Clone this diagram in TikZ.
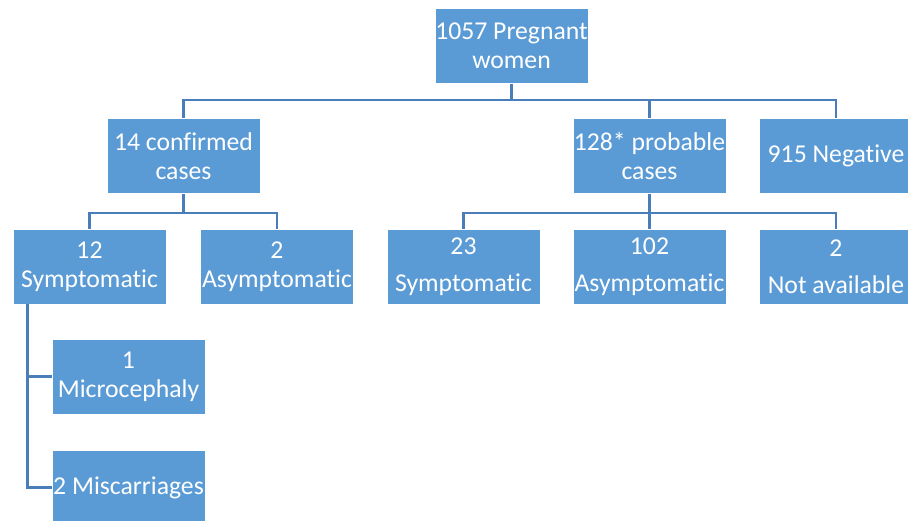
\documentclass[tikz,border=0pt]{standalone}
\usepackage{fontspec}
\setmainfont{Carlito}[Ligatures={NoCommon}]
\usetikzlibrary{calc}
\definecolor{boxblue}{HTML}{5B9BD5}
\definecolor{lineblue}{HTML}{4A7EBB}
\begin{document}
\begin{tikzpicture}[x=1pt,y=-1pt,
  box/.style={rectangle, fill=boxblue, draw=white, line width=0.8pt,
    minimum width=153pt, minimum height=75pt, inner sep=0pt,
    text=white, align=center, font=\fontsize{25.7}{29}\selectfont},
  conn/.style={draw=lineblue, line width=2.4pt}]
\useasboundingbox (0,0) rectangle (908,520);
\clip (0,0) rectangle (908,520);
\fill[white] (0,0) rectangle (908,520);
\node[box] (root) at (511.5,46) {1057 Pregnant\\women};
\node[box] (conf) at (183.5,156) {14 confirmed\\cases};
\node[box] (prob) at (649.5,156) {128* probable\\cases};
\node[box] (neg) at (836,156) {915 Negative};
\node[box] (sym1) at (89.5,266.5) {12\\Symptomatic};
\node[box] (asym1) at (277,266.5) {2\\Asymptomatic};
\node[box] (sym2) at (463.5,266.5) {23\\[8pt]Symptomatic};
\node[box] (asym2) at (649.5,266.5) {102\\[8pt]Asymptomatic};
\node[box] (na) at (836,266.5) {2\\[8pt]Not available};
\node[box] (micro) at (128.5,376.5) {1\\Microcephaly};
\node[box] (misc) at (128.5,487.5) {2 Miscarriages};
\coordinate (bus1) at (0,100);
\coordinate (bus2) at (0,213);
\coordinate (t) at ($(sym1.south west)+(15,0)$);
% root level
\draw[conn] (root.south) -- (root.south |- bus1);
\draw[conn] (conf.north) -- (conf.north |- bus1) -| (neg.north);
\draw[conn] (prob.north) -- (prob.north |- bus1);
% confirmed
\draw[conn] (conf.south) -- (conf.south |- bus2);
\draw[conn] (sym1.north) -- (sym1.north |- bus2) -| (asym1.north);
% probable
\draw[conn] (prob.south) -- (asym2.north);
\draw[conn] (sym2.north) -- (sym2.north |- bus2) -| (na.north);
% symptomatic children
\draw[conn] (t) |- (micro.west);
\draw[conn] (t) |- (misc.west);
\end{tikzpicture}
\end{document}
